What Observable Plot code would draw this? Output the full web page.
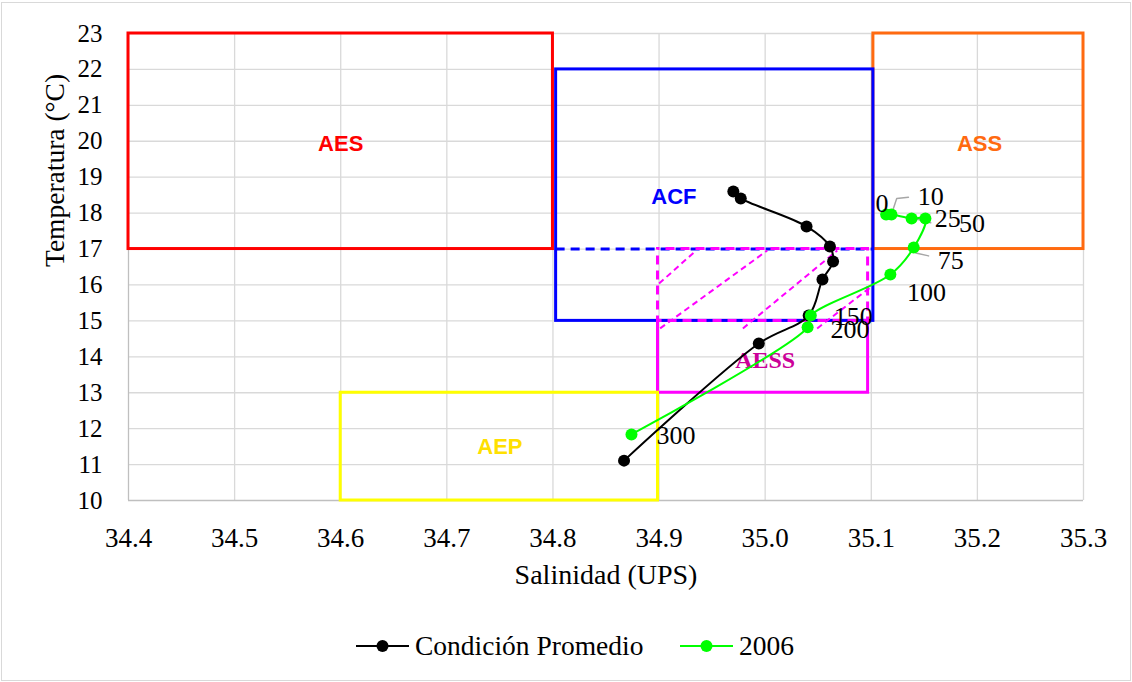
<!DOCTYPE html>
<html>
<head>
<meta charset="utf-8">
<script src="https://cdn.jsdelivr.net/npm/d3@7"></script>
<script src="https://cdn.jsdelivr.net/npm/@observablehq/plot@0.6"></script>
<style>
  body { margin: 0; background: #fff; }
  #wrap { position: relative; width: 1132px; height: 682px; font-family: "Liberation Serif", "Times New Roman", serif; }
  #frame { position: absolute; left: 1px; top: 2px; width: 1128px; height: 677px; border: 1px solid #d9d9d9; pointer-events: none; }
  #chart { position: absolute; left: 0; top: 0; }
  #legend { position: absolute; left: 0; top: 600px; width: 1132px; height: 82px; }
  .item { position: absolute; top: 32px; display: flex; align-items: center; font-size: 27.5px; color: #000; line-height: 1; }
  .item svg { margin-right: 6px; }
</style>
</head>
<body>
<div id="wrap">
  <div id="chart"></div>
  <div id="legend"></div>
  <div id="frame"></div>
</div>
<script>
// ---- Data ----
const xTicks = [34.4, 34.5, 34.6, 34.7, 34.8, 34.9, 35.0, 35.1, 35.2, 35.3];
const yTicks = [10, 11, 12, 13, 14, 15, 16, 17, 18, 19, 20, 21, 22, 23];

// Condición Promedio
const promSal  = [34.970, 34.977, 35.039, 35.061, 35.064, 35.054, 35.041, 34.994, 34.867];
const promTemp = [18.60, 18.41, 17.63, 17.07, 16.65, 16.15, 15.15, 14.37, 11.11];

// 2006
const depth2006 = [0, 10, 25, 50, 75, 100, 150, 200, 300];
const sal2006   = [35.114, 35.119, 35.138, 35.151, 35.140, 35.118, 35.043, 35.040, 34.874];
const temp2006  = [17.96, 17.96, 17.85, 17.85, 17.04, 16.29, 15.15, 14.82, 11.84];

// depth label anchors (data units)
const labelSal  = [35.110, 35.156, 35.172, 35.195, 35.175, 35.152, 35.083, 35.080, 34.916];
const labelTemp = [18.25, 18.45, 17.84, 17.71, 16.68, 15.79, 15.12, 14.76, 11.81];

// leader lines (grey)
const leaderId   = [10, 10, 10, 25, 25, 75, 75];
const leaderSal  = [35.119, 35.124, 35.135, 35.139, 35.156, 35.142, 35.154];
const leaderTemp = [17.96, 18.41, 18.44, 17.86, 17.73, 16.89, 16.81];

// Water masses
const massNames   = ["AES", "ACF", "ASS", "AEP", "AESS"];
const massSalMin  = [34.4, 34.803, 35.102, 34.6, 34.899];
const massSalMax  = [34.8, 35.102, 35.3, 34.899, 35.097];
const massTempMin = [17, 15, 17, 10, 13];
const massTempMax = [23, 22, 23, 13, 15];
const massColors  = ["#FF0000", "#0000FF", "#FF6A10", "#FFFF00", "#FF00FF"];
const massLabelColors = ["#FF0000", "#0000FF", "#FF6A10", "#FFE000", "#CC0099"];
const massLabelSal  = [34.6, 34.914, 35.202, 34.75, 35.0];
const massLabelTemp = [19.93, 18.46, 19.93, 11.5, 13.9];

// AESS upper (dashed) part
const aessUpSal  = [34.899, 35.097];
const aessUpTemp = [15, 17];
// hatch lines
const hatchSal1  = [34.900, 34.901, 34.979, 35.049];
const hatchTemp1 = [16.04, 14.79, 14.79, 14.79];
const hatchSal2  = [34.935, 35.002, 35.068, 35.099];
const hatchTemp2 = [16.96, 16.96, 16.96, 15.93];

// ---- Build ----
const SERIF = "'Liberation Serif', 'Times New Roman', serif";
const SANS = "'Liberation Sans', Arial, sans-serif";
const prom = promSal.map((s, i) => ({s, t: promTemp[i]}));
const y06 = sal2006.map((s, i) => ({s, t: temp2006[i], d: depth2006[i]}));
const labs = depth2006.map((d, i) => ({s: labelSal[i], t: labelTemp[i], d: String(d)}));
const leaders = leaderId.map((id, i) => ({id, s: leaderSal[i], t: leaderTemp[i]}));
const masses = massNames.map((n, i) => ({
  n, x1: massSalMin[i], x2: massSalMax[i], y1: massTempMin[i], y2: massTempMax[i],
  c: massColors[i], lc: massLabelColors[i], lx: massLabelSal[i], ly: massLabelTemp[i]
}));
const hatches = hatchSal1.map((s, i) => ({x1: s, y1: hatchTemp1[i], x2: hatchSal2[i], y2: hatchTemp2[i]}));

const massMarks = [];
const order = [4, 0, 2, 3, 1]; // draw AESS under ACF
for (const i of order) {
  const m = masses[i];
  massMarks.push(Plot.rect([m], {x1: "x1", x2: "x2", y1: "y1", y2: "y2", fill: "none", stroke: m.c, strokeWidth: 3}));
}
// blue dashed separator in ACF at 17
massMarks.push(Plot.ruleY([17], {x1: massSalMin[1], x2: massSalMax[1], stroke: "#0000FF", strokeWidth: 3, strokeDasharray: "9,6"}));
// AESS dashed upper box
massMarks.push(Plot.rect([{x1: aessUpSal[0], x2: aessUpSal[1], y1: aessUpTemp[0], y2: aessUpTemp[1]}],
  {x1: "x1", x2: "x2", y1: "y1", y2: "y2", fill: "none", stroke: "#FF00FF", strokeWidth: 3, strokeDasharray: "9,6", strokeDashoffset: 7}));
massMarks.push(Plot.link(hatches, {x1: "x1", y1: "y1", x2: "x2", y2: "y2", stroke: "#FF00FF", strokeWidth: 2, strokeDasharray: "6,4"}));

const labelMarks = masses.map((m, i) => Plot.text([m], {
  x: "lx", y: "ly", text: "n", fill: m.lc,
  fontFamily: i === 4 ? SERIF : SANS,
  fontWeight: "bold", fontSize: i === 4 ? 24 : 22
}));

const plot = Plot.plot({
  width: 1132, height: 600,
  marginLeft: 128, marginRight: 49, marginTop: 33, marginBottom: 100,
  x: {domain: [34.4, 35.3]},
  y: {domain: [10, 23]},
  style: "font-family: 'Liberation Serif', 'Times New Roman', serif; font-size: 26px; background: transparent; color: #000; overflow: visible;",
  marks: [
    Plot.ruleX(xTicks.slice(1), {stroke: "#d9d9d9", strokeWidth: 1.3}),
    Plot.ruleY(yTicks.slice(1), {stroke: "#d9d9d9", strokeWidth: 1.3}),
    Plot.ruleX([xTicks[0]], {stroke: "#bfbfbf", strokeWidth: 1.3}),
    Plot.ruleY([yTicks[0]], {stroke: "#bfbfbf", strokeWidth: 1.3}),
    Plot.axisX({ticks: xTicks, tickFormat: d3.format(".1f"), tickSize: 0, tickPadding: 27, label: null, fontSize: 27, fontFamily: SERIF}),
    Plot.axisY({ticks: yTicks, tickFormat: d3.format("d"), tickSize: 0, tickPadding: 26, label: null, fontSize: 25, fontFamily: SERIF}),
    Plot.text(["Salinidad (UPS)"], {frameAnchor: "bottom", lineAnchor: "middle", dy: 75, fontSize: 28, fontFamily: SERIF}),
    Plot.text(["Temperatura (°C)"], {frameAnchor: "left", lineAnchor: "middle", dx: -73, rotate: -90, fontSize: 27.5, fontFamily: SERIF}),
    ...massMarks,
    ...labelMarks,
    Plot.line(leaders, {x: "s", y: "t", z: "id", stroke: "#a6a6a6", strokeWidth: 1.5}),
    Plot.line(prom, {x: "s", y: "t", curve: "catmull-rom", stroke: "#000", strokeWidth: 2}),
    Plot.dot(prom, {x: "s", y: "t", r: 6, fill: "#000"}),
    Plot.line(y06, {x: "s", y: "t", curve: "catmull-rom", stroke: "#00FF00", strokeWidth: 2}),
    Plot.dot(y06, {x: "s", y: "t", r: 6, fill: "#00FF00"}),
    Plot.text(labs, {x: "s", y: "t", text: "d", fontSize: 26, fontFamily: SERIF, fill: "#000"})
  ]
});
document.getElementById("chart").appendChild(plot);

// enforce fonts with inline styles (serif everywhere, sans for the bold mass labels)
const sansLabels = new Set(massNames.slice(0, 4));
d3.select(plot).selectAll("text").each(function() {
  const t = this.textContent;
  this.style.fontFamily = sansLabels.has(t) ? SANS : SERIF;
});

// Legend
const legendItems = [
  {name: "Condición Promedio", color: "#000", left: 356},
  {name: "2006", color: "#00FF00", left: 680}
];
const leg = d3.select("#legend");
for (const it of legendItems) {
  const div = leg.append("div").attr("class", "item").style("left", it.left + "px");
  const s = div.append("svg").attr("width", 53).attr("height", 14);
  s.append("line").attr("x1", 0).attr("x2", 53).attr("y1", 7).attr("y2", 7).attr("stroke", it.color).attr("stroke-width", 2);
  s.append("circle").attr("cx", 26.5).attr("cy", 7).attr("r", 6).attr("fill", it.color);
  div.append("span").text(it.name);
}
</script>
</body>
</html>
